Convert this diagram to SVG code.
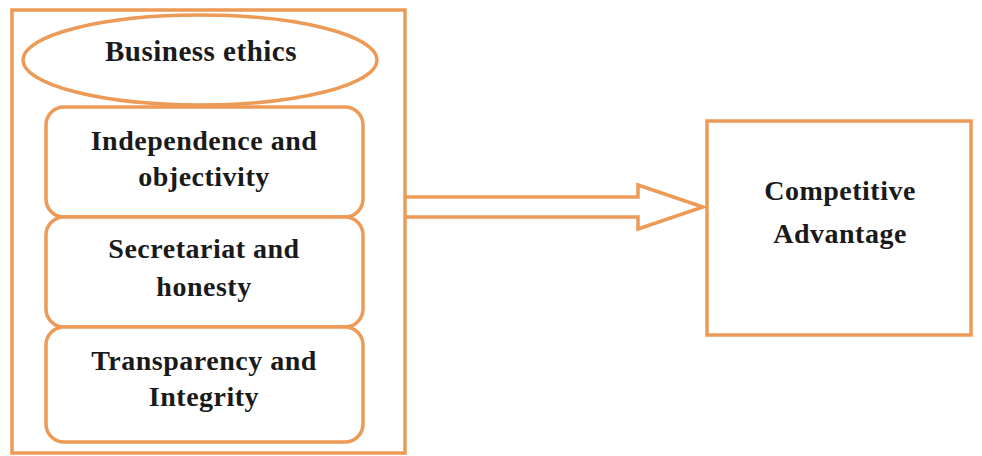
<svg xmlns="http://www.w3.org/2000/svg" width="982" height="456" viewBox="0 0 982 456">
<style>
.s{fill:#fff;stroke:#EC9A55;stroke-width:3.5}
.c{fill:none;stroke:#EC9A55;stroke-width:3.5}
.t{font-family:"Liberation Serif","Times New Roman",serif;font-weight:bold;font-size:28px;letter-spacing:0.5px;fill:#1a1a1a;text-anchor:middle}
</style>
<rect width="982" height="456" fill="#fff"/>
<g id="outer"><rect class="s" x="12" y="10" width="393" height="443"/></g>
<g id="business-ethics"><ellipse class="s" cx="200" cy="60" rx="177" ry="45"/><text class="t" x="201" y="61" style="font-size:29px">Business ethics</text></g>
<g id="independence"><rect class="s" x="46" y="107" width="317" height="110" rx="18"/><text class="t" x="204" y="150">Independence and</text><text class="t" x="204" y="186">objectivity</text></g>
<g id="secretariat"><rect class="s" x="46" y="217" width="317" height="110" rx="18"/><text class="t" x="204" y="258">Secretariat and</text><text class="t" x="204" y="296">honesty</text></g>
<g id="transparency"><rect class="s" x="46" y="327" width="317" height="115" rx="18"/><text class="t" x="204" y="370">Transparency and</text><text class="t" x="204" y="406">Integrity</text></g>
<g id="competitive"><rect class="s" x="707" y="121" width="264" height="214"/><text class="t" x="840" y="200">Competitive</text><text class="t" x="840" y="243">Advantage</text></g>
<g id="connectors"><path class="c" stroke-linejoin="miter" d="M405,197 H638 V185 L703,207 L638,229 V217 H405"/></g>
</svg>
